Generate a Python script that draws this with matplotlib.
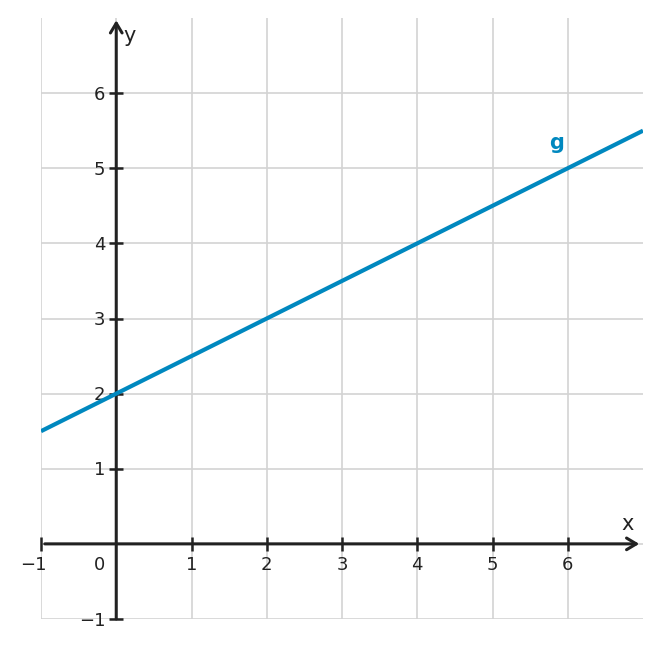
import matplotlib.pyplot as plt
import numpy as np

# line g and axis ticks
x_line = [-1, 7]
y_line = [1.5, 5.5]
x_ticks = [-1, 1, 2, 3, 4, 5, 6]
y_ticks = [-1, 1, 2, 3, 4, 5, 6]
grid_vals = [-1, 0, 1, 2, 3, 4, 5, 6]

ink = '#222222'
blue = '#0088bf'

fig = plt.figure(figsize=(6.61, 6.48), dpi=100)
ax = fig.add_axes([41/661, 29/648, 602/661, 601/648])
ax.set_xlim(-1, 7)
ax.set_ylim(-1, 7)
for s in ax.spines.values():
	s.set_visible(False)
ax.set_xticks([])
ax.set_yticks([])

# grid
for v in grid_vals:
	ax.plot([v, v], [-1, 7], color='#d3d3d3', lw=1.2, zorder=0)
	ax.plot([-1, 7], [v, v], color='#d3d3d3', lw=1.2, zorder=0)

# axes with arrow heads
arr = dict(arrowstyle='->,head_length=0.5,head_width=0.3', lw=2.2, color=ink,
           shrinkA=0, shrinkB=0, mutation_scale=14)
ax.annotate('', xy=(6.95, 0), xytext=(-0.95, 0), arrowprops=arr, annotation_clip=False)
ax.annotate('', xy=(0, 6.97), xytext=(0, -1), arrowprops=arr, annotation_clip=False)

# tick marks
ax.plot(x_ticks, [0]*len(x_ticks), ls='none', marker='|', ms=10, mew=1.8, color=ink, clip_on=False)
ax.plot([0]*len(y_ticks), y_ticks, ls='none', marker='_', ms=10, mew=1.8, color=ink, clip_on=False)

# tick labels
for v in x_ticks:
	lab = str(v).replace('-', '\u2212')
	if v < 0:
		ax.annotate(lab, (v, 0), xytext=(6, -26), textcoords='offset pixels',
		            ha='right', va='baseline', fontsize=13, color=ink)
	else:
		ax.annotate(lab, (v, 0), xytext=(0, -26), textcoords='offset pixels',
		            ha='center', va='baseline', fontsize=13, color=ink)
ax.annotate('0', (0, 0), xytext=(-11, -26), textcoords='offset pixels',
            ha='right', va='baseline', fontsize=13, color=ink)
for v in y_ticks:
	lab = str(v).replace('-', '\u2212')
	ax.annotate(lab, (0, v), xytext=(-11, -6.5), textcoords='offset pixels',
	            ha='right', va='baseline', fontsize=13, color=ink)

# axis names
ax.text(6.79, 0.27, 'x', fontsize=15, color=ink, ha='center', va='center')
ax.text(0.18, 6.76, 'y', fontsize=15, color=ink, ha='center', va='center')

# line g
ax.plot(x_line, y_line, color=blue, lw=3, solid_capstyle='butt', zorder=3)
ax.text(5.85, 5.33, 'g', fontsize=15, fontweight='bold', color=blue, ha='center', va='center')

fig.savefig('out.png', dpi=100)
